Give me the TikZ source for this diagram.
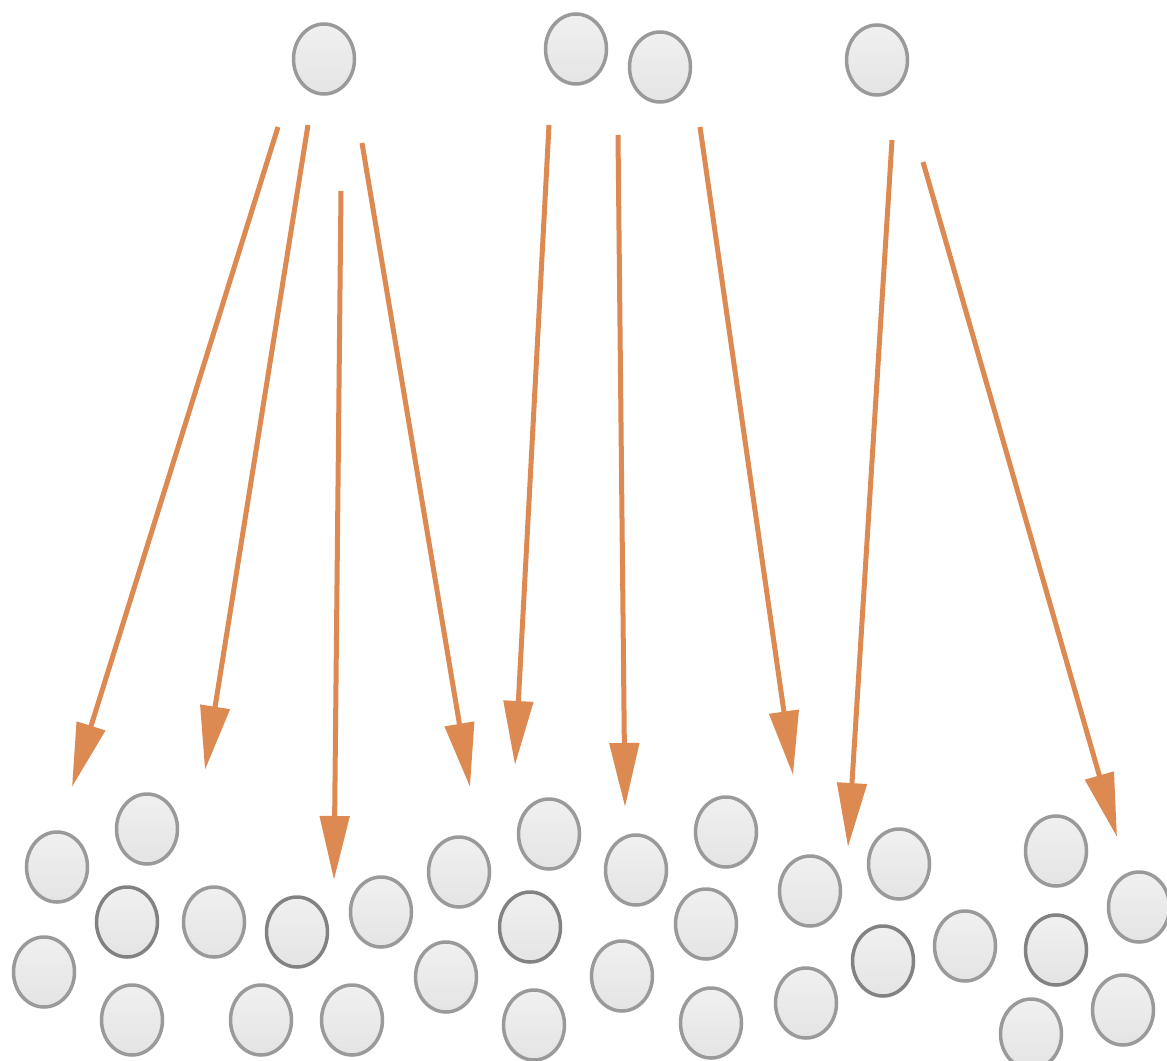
\documentclass[tikz,border=0pt]{standalone}
\usetikzlibrary{shapes.geometric,arrows.meta}
\definecolor{ballfill}{HTML}{E4E4E4}
\definecolor{ballline}{HTML}{9A9A9A}
\definecolor{balldark}{HTML}{828282}
\definecolor{arrowcol}{HTML}{DC8A52}
\tikzset{
  ball/.style={ellipse, draw=ballline, line width=3.5pt,
    top color=ballfill!55!white, bottom color=ballfill,
    minimum width=61pt, minimum height=70pt, inner sep=0pt},
  balld/.style={ball, draw=balldark},
  flow/.style={draw=arrowcol, line width=5pt,
    -{Triangle[length=64pt,width=29pt]}}
}
\begin{document}
\begin{tikzpicture}[x=1pt,y=-1pt]
\useasboundingbox (0,0) rectangle (1167,1060);
% top balls
\node[ball] (t1) at (324,59) {};
\node[ball] (t2) at (576,49) {};
\node[ball] (t3) at (660,67) {};
\node[ball] (t4) at (877,60) {};
% bottom balls
\node[ball]  (bA) at (57,867) {};
\node[ball]  (bB) at (147,829) {};
\node[balld] (bC) at (127,922) {};
\node[ball]  (bD) at (44,972) {};
\node[ball]  (bE) at (214,922) {};
\node[ball]  (bF) at (132,1020) {};
\node[balld] (bG) at (297,932) {};
\node[ball]  (bH) at (381,912) {};
\node[ball]  (bI) at (261,1020) {};
\node[ball]  (bJ) at (352,1020) {};
\node[ball]  (bK) at (459,872) {};
\node[ball]  (bL) at (549,834) {};
\node[balld] (bM) at (530,927) {};
\node[ball]  (bN) at (446,977) {};
\node[ball]  (bO) at (534,1025) {};
\node[ball]  (bP) at (636,870) {};
\node[ball]  (bQ) at (726,832) {};
\node[ball]  (bR) at (706,924) {};
\node[ball]  (bS) at (622,976) {};
\node[ball]  (bT) at (711,1023) {};
\node[ball]  (bU) at (810,891) {};
\node[ball]  (bV) at (899,864) {};
\node[balld] (bW) at (883,961) {};
\node[ball]  (bX) at (806,1003) {};
\node[ball]  (bY) at (965,946) {};
\node[ball]  (bZ) at (1056,851) {};
\node[ball]  (bAA) at (1139,907) {};
\node[balld] (bAB) at (1056,950) {};
\node[ball]  (bAC) at (1123,1010) {};
\node[ball]  (bAD) at (1031,1034) {};
% arrow ends
\coordinate (s1) at (278,127); \coordinate (e1) at (72,787);
\coordinate (s2) at (308,125); \coordinate (e2) at (205,770);
\coordinate (s3) at (341,191); \coordinate (e3) at (334,880);
\coordinate (s4) at (362,143); \coordinate (e4) at (470,787);
\coordinate (s5) at (549,125); \coordinate (e5) at (515,765);
\coordinate (s6) at (618,135); \coordinate (e6) at (625,807);
\coordinate (s7) at (700,127); \coordinate (e7) at (793,775);
\coordinate (s8) at (892,140); \coordinate (e8) at (848,847);
\coordinate (s9) at (923,162); \coordinate (e9) at (1117,837);
\foreach \i in {1,...,9} {\draw[flow] (s\i) -- (e\i);}
\end{tikzpicture}
\end{document}
